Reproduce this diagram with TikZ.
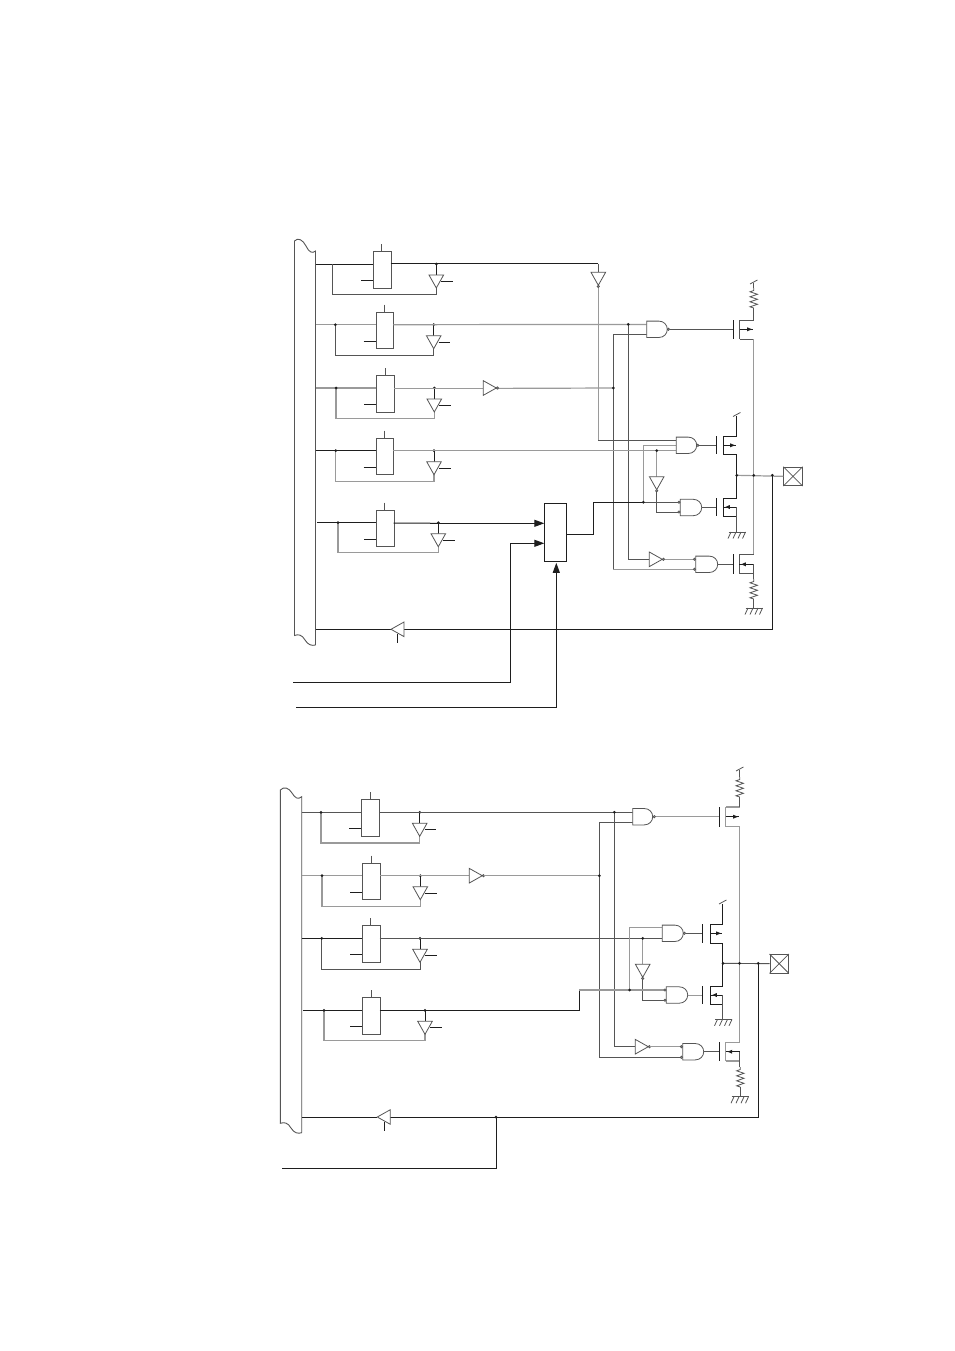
\documentclass[tikz,border=0pt]{standalone}
\usetikzlibrary{arrows.meta}
\definecolor{ink}{HTML}{1E1E1E}
\definecolor{mid}{HTML}{555555}
\definecolor{pale}{HTML}{9A9A9A}
\tikzset{
  wire/.style={draw=ink,line width=1pt,line join=miter},
  gwire/.style={draw=mid,line width=0.9pt},
  lwire/.style={draw=pale,line width=1.2pt},
  sym/.style={draw=mid,line width=0.8pt,fill=white},
  dotj/.style={circle,fill=ink,draw=none,inner sep=0pt,minimum size=3pt},
  latchbox/.style={draw=mid,line width=0.9pt,fill=white,rectangle,inner sep=0pt,minimum width=17.5pt,minimum height=36.5pt},
  muxbox/.style={draw=ink,line width=1pt,fill=white,rectangle,inner sep=0pt,minimum width=22pt,minimum height=58pt},
  padbox/.style={draw=mid,line width=0.8pt,fill=white,rectangle,inner sep=0pt,minimum size=18.5pt},
  bigarrow/.style={-{Triangle[length=10pt,width=7pt]}}
}
\newcommand\trig[4]{%
  \begin{scope}[shift={(#2,#3)},rotate=#4]
    \draw[sym] (0,-7.3) -- (13,0) -- (0,7.3) -- cycle;
  \end{scope}}
\newcommand\trib[4]{%
  \begin{scope}[shift={(#2,#3)},rotate=#4]
    \draw[sym] (0,-7.3) -- (13,0) -- (0,7.3) -- cycle;
    \draw[sym] (14.1,0) circle (1.1);
  \end{scope}}
% latch row: name, wire start, junction x, box left, wire y, buffer x, feedback y, feedback style, input style
\newcommand\latchrow[9]{%
  \coordinate (#1s) at (#2,#5);
  \coordinate (#1j) at (#3,#5);
  \coordinate (#1o) at (#6,#5);
  \coordinate (#1f) at (#3,#7);
  \coordinate (#1g) at (#6,#7);
  \draw[#9] (#1s) -- (#4,#5);
  \node[latchbox,anchor=north west] (#1box) at (#4,#5-13) {};
  \draw[#8] (#1j) -- (#1f) -- (#1g) -- (#6,#5+23);
  \draw[wire] (#1o) -- (#6,#5+11);
  \draw[gwire] (#4+8.7,#5-20) -- (#4+8.7,#5-13);
  \draw[wire] (#4-12,#5+16.5) -- (#4,#5+16.5);
  \draw[wire] (#6+5,#5+17.5) -- (#6+16.5,#5+17.5);
  \trig{#1b}{#6}{#5+11}{-90}
  \node[dotj] at (#1o) {};
}
\newcommand\andbody[3]{%
  \draw[sym] (#1,#2-8.2) -- (#1+#3-8.5,#2-8.2) .. controls (#1+#3-3.5,#2-8.2) and (#1+#3,#2-4.5) .. (#1+#3,#2) .. controls (#1+#3,#2+4.5) and (#1+#3-3.5,#2+8.2) .. (#1+#3-8.5,#2+8.2) -- (#1,#2+8.2) -- cycle;
}
\newcommand\bub[2]{\draw[sym] (#1,#2) circle (1.1);}
\newcommand\mos[7]{%
  \draw[#7] (#4,#2) -- (#4,#3);
  \draw[wire] (#1,#2) -- (#1,#3);
  \draw[#7] (#5,#2) -- (#4,#2) (#4,#3) -- (#5,#3);
}
\newcommand\arrowr[3]{%
  \draw[wire] (#1,#3) -- (#2,#3);
  \fill[ink] (#2-1,#3) -- (#2-6,#3-2) -- (#2-6,#3+2) -- cycle;}
\newcommand\arrowl[3]{%
  \draw[wire] (#1,#3) -- (#2,#3);
  \fill[ink] (#1+2,#3) -- (#1+6.5,#3-2) -- (#1+6.5,#3+2) -- cycle;}
% resistor: x, y top, y bottom (four zigzag periods of 5 px)
\newcommand\res[3]{%
  \draw[sym,fill=none] (#1,#3)
   -- ++(-3.7,-1.2) -- ++(7.4,-2.5) -- ++(-7.4,-2.5) -- ++(7.4,-2.5) -- ++(-7.4,-2.5) -- ++(7.4,-2.5) -- ++(-7.4,-2.5) -- ++(3.7,-1.3) -- (#1,#2);
}
\newcommand\gnd[2]{%
  \draw[sym,fill=none] (#1-8.5,#2) -- (#1+8.5,#2);
  \foreach \k in {-5.5,-0.5,4.5,9}{\draw[sym,fill=none] (#1+\k-0.5,#2) -- (#1+\k-3.5,#2+6.5);}
}
\newcommand\vdd[2]{\draw[sym,fill=none] (#1-3.7,#2+1) -- (#1+3.7,#2-3);}
\begin{document}
\begin{tikzpicture}[x=1pt,y=-1pt]
\useasboundingbox (0,0) rectangle (954,1351);
\fill[white] (0,0) rectangle (954,1351);

%%%%%%%%%%%%%%%%%%%%% upper diagram
\draw[gwire] (315.5,645) -- (315.5,251) .. controls (312,254) and (309,252) .. (306,246) .. controls (303,240) and (298,237) .. (294.5,241) -- (294.5,635.5) .. controls (298,634) and (302,634.5) .. (305,640) .. controls (308,645) and (312,646) .. (315.5,645);
\latchrow{a}{315.5}{332.3}{373}{264}{436.3}{294.3}{gwire}{wire}
\latchrow{b}{315.5}{335.3}{375.5}{324.7}{433.7}{355.3}{gwire}{lwire}
\latchrow{c}{315.5}{336}{376.3}{388}{434.3}{418.7}{lwire}{lwire}
\latchrow{d}{315.5}{335.7}{375.7}{450.7}{434}{481.5}{lwire}{wire}
\latchrow{e}{317}{338}{376}{522.7}{438.3}{552.3}{lwire}{wire}
% mux
\node[muxbox,anchor=north west] (mux) at (544.3,503.3) {};
\coordinate (mi1) at (mux.west |- 0,523.3);
\coordinate (mi2) at (mux.west |- 0,543.3);
\coordinate (mi3) at (556.3,562.8);
\coordinate (ml2) at (293,682.3);
\coordinate (ml3) at (296,707.3);
\draw[wire,bigarrow] (eo |- mi1) -- (mi1);
\draw[wire] (393.5,523) -- (eo |- mi1);
\draw[wire,bigarrow] (ml2) -- (510.7,682.3) -- (510.7,543.3) -- (mi2);
\draw[wire,bigarrow] (ml3) -- (556.3,707.3) -- (mi3);
% row a to tall buffer
\coordinate (bf1) at (598.3,263.5);
\draw[wire] (390.5,263.5) -- (bf1);
\draw[gwire] (bf1) -- (598.3,272.3);
\draw[lwire] (598.3,287) -- (598.3,440);
\trib{t1}{598.3}{272.3}{-90}
% NAND 1
\coordinate (n1a) at (646.7,324.4);
\coordinate (n1b) at (646.7,334.3);
\coordinate (j28) at (628.3,324.4);
\coordinate (j13) at (613.3,388);
\draw[lwire] (393.3,324.7) -- (n1a);
\draw[lwire] (394,388.4) -- (483.3,388.4);
\draw[lwire] (498,388.4) -- (j13);
\draw[gwire] (n1b) -- (613.3,334.3) -- (613.3,569.3);
\draw[gwire] (j28) -- (628.3,559.3);
\trib{i1}{483.3}{388}{0}
% NAND 2
\draw[gwire] (598.3,440.2) -- (676.3,440.2);
\draw[lwire] (393.3,450.7) -- (676.3,450.7);
\coordinate (j43) at (643.3,502.3);
\coordinate (j56) at (656.7,450.7);
\draw[lwire] (j43) -- (643.3,445.7) -- (676.3,445.7);
\draw[lwire] (j56) -- (656.7,476.7);
\trib{t2}{656.7}{476.7}{-90}
\draw[gwire] (656.7,491.5) -- (656.7,512) -- (679,512);
\draw[wire] (566.3,534) -- (593.3,534) -- (593.3,502.3) -- (643.3,502.3);
\draw[gwire] (643.3,502.3) -- (679,502.3);
% inverter low
\draw[gwire] (628.3,559.3) -- (649.3,559.3);
\trib{i2}{649.3}{559.3}{0}
\draw[lwire] (664.5,559.3) -- (694,559.3);
\draw[lwire] (613.3,569.3) -- (694,569.3);
% gates
\andbody{646.7}{329.3}{20.6}\bub{668.4}{329.3}
\andbody{676.3}{445.3}{20.4}\bub{697.8}{445.3}
\andbody{680.3}{507.5}{21.4}\bub{679}{502.3}\bub{679}{512}
\andbody{695.7}{564.3}{22}\bub{694.5}{559.3}\bub{694.5}{569.3}
% outputs to gates
\draw[gwire] (669.5,329.3) -- (733.7,329.3);
\draw[gwire] (699,445.3) -- (716.3,445.3);
\draw[gwire] (701.7,507.5) -- (716.3,507.5);
\draw[gwire] (717.7,564.3) -- (733.3,564.3);
% transistors
\mos{733.7}{320}{339.3}{739.7}{753.7}{329.3}{gwire}
\arrowr{739.7}{753}{329.3}
\mos{716.3}{436}{454.3}{723.3}{736.7}{445.3}{wire}
\arrowr{723.3}{736}{445.3}
\mos{716.3}{498.3}{516.3}{723.3}{736.7}{507}{wire}
\arrowl{723.3}{736.7}{507}
\mos{733.3}{554.3}{573.5}{739.3}{753.7}{564.3}{gwire}
\arrowl{739.3}{753.7}{564.3}
% rails
\res{753.7}{288}{308}
\draw[gwire] (753.7,308) -- (753.7,320);
\draw[gwire] (753.7,288) -- (753.7,283);
\vdd{753.7}{283}
\draw[lwire] (753.7,339.3) -- (753.7,554.3);
\draw[wire] (736.7,436) -- (736.7,416);
\vdd{736.7}{415.5}
\draw[wire] (736.7,454.3) -- (736.7,498.3);
\draw[gwire] (736.7,507) -- (736.7,532);
\gnd{737}{532}
\draw[gwire] (753.7,564.3) -- (753.7,579);
\res{753.7}{579}{599}
\draw[gwire] (753.7,599) -- (753.7,608);
\gnd{754}{608}
% pad
\node[padbox,anchor=north west] (pad1) at (783.3,466.7) {};
\draw[sym,fill=none] (pad1.north west) -- (pad1.south east) (pad1.north east) -- (pad1.south west);
\coordinate (o1) at (736.7,475.3);
\coordinate (o2) at (753.7,475.3);
\coordinate (o3) at (772.3,475.3);
\draw[lwire] (o1) -- (pad1.west);
% return
\draw[wire] (o3) -- (772.3,629.3) -- (404,629.3);
\draw[wire] (391.7,629.3) -- (315.5,629.3);
\trig{r1}{404}{629.3}{180}
\draw[wire] (397.3,634) -- (397.3,643);
\foreach \p in {bj,cj,dj,ej,j28,j13,j43,j56,o1,o2,o3}{\node[dotj] at (\p) {};}

%%%%%%%%%%%%%%%%%%%%% lower diagram
\draw[gwire] (301.7,1132.7) -- (301.7,796.7) .. controls (298,800) and (295,798) .. (292,793) .. controls (289,788) and (284,786) .. (280.3,790) -- (280.3,1123.3) .. controls (284,1122) and (288,1122.5) .. (291,1128) .. controls (294,1133) and (298,1134) .. (301.7,1132.7);
\latchrow{p}{301.7}{321}{361.3}{812.3}{419.7}{843}{lwire}{gwire}
\latchrow{q}{301.7}{322}{362.3}{875.7}{420.3}{906.3}{lwire}{lwire}
\latchrow{r}{301.7}{321.7}{362}{938.3}{420}{969}{gwire}{wire}
\latchrow{s}{303}{324}{362.3}{1010.3}{425}{1040.3}{lwire}{wire}
\draw[gwire] (379,812.3) -- (632.7,812.3);
\coordinate (k14) at (614.3,812.3);
\coordinate (k99) at (599.3,875.7);
\draw[lwire] (380.3,875.7) -- (469.3,875.7);
\trib{i3}{469.3}{875.7}{0}
\draw[lwire] (484,875.7) -- (k99);
\draw[gwire] (632.7,822) -- (599.3,822) -- (599.3,1057.3) -- (681,1057.3);
\draw[gwire] (k14) -- (614.3,1046.7) -- (635.3,1046.7);
\trib{i4}{635.3}{1046.7}{0}
\draw[lwire] (649.5,1046.7) -- (681,1046.7);
\draw[gwire] (379.7,938.3) -- (662.3,938.3);
\coordinate (k42) at (642.7,938.3);
\coordinate (k29) at (629.7,990);
\draw[lwire] (k42) -- (642.7,964.3);
\trib{t3}{642.7}{964.3}{-90}
\draw[gwire] (642.7,979) -- (642.7,1000.3) -- (665,1000.3);
\draw[wire] (379.7,1010.3) -- (579.3,1010.3) -- (579.3,990);
\draw[lwire] (579.3,990) -- (665,990);
\draw[lwire] (k29) -- (629.7,927.7) -- (662.3,927.7);
\andbody{632.7}{816.7}{20}\bub{654.3}{816.7}
\andbody{662.3}{933.3}{21}\bub{684.4}{933.3}
\andbody{666.3}{995}{21.4}\bub{665}{990}\bub{665}{1000.3}
\andbody{682.7}{1051.7}{21}\bub{681.4}{1046.7}\bub{681.4}{1057.3}
\draw[lwire] (655.5,816.7) -- (719.7,816.7);
\draw[gwire] (685.5,933.3) -- (702.3,933.3);
\draw[pale,line width=1pt] (687.7,995) -- (702.3,995);
\draw[gwire] (703.7,1051.7) -- (719.7,1051.7);
\mos{719.7}{807}{826.7}{725.7}{739.7}{816.7}{lwire}
\arrowr{725.7}{739}{816.7}
\mos{702.3}{924}{943.3}{710.3}{722.7}{933.3}{wire}
\arrowr{710.3}{722}{933.3}
\mos{702.3}{986}{1004.3}{710.3}{722.7}{995}{wire}
\arrowl{710.3}{722.7}{995}
\mos{719.7}{1042.3}{1061}{725.7}{739.7}{1051.7}{lwire}
\arrowl{725.7}{739.7}{1051.7}
\res{739.7}{777}{797}
\draw[gwire] (739.7,797) -- (739.7,807);
\draw[gwire] (739.7,777) -- (739.7,770);
\vdd{739.7}{770}
\draw[lwire] (739.7,826.7) -- (739.7,1042.3);
\draw[wire] (722.7,924) -- (722.7,904);
\vdd{722.7}{903}
\draw[wire] (722.7,943.3) -- (722.7,986);
\draw[gwire] (722.7,995) -- (722.7,1019.3);
\gnd{723.5}{1019.3}
\draw[gwire] (739.7,1051.7) -- (739.7,1067);
\res{740.3}{1067}{1087}
\draw[gwire] (740.3,1087) -- (740.3,1096.7);
\gnd{740}{1096.7}
\node[padbox,anchor=north west] (pad2) at (769.5,954) {};
\draw[sym,fill=none] (pad2.north west) -- (pad2.south east) (pad2.north east) -- (pad2.south west);
\coordinate (u1) at (723,963.3);
\coordinate (u2) at (739.5,963.3);
\coordinate (u3) at (758.2,963.3);
\draw[gwire] (u1) -- (pad2.west);
\coordinate (v1) at (496,1117);
\draw[wire] (u3) -- (758.2,1117) -- (390.3,1117);
\draw[wire] (377.3,1117) -- (301.7,1117);
\trig{r2}{390.3}{1117}{180}
\draw[wire] (384.7,1122) -- (384.7,1131);
\draw[wire] (v1) -- (496,1168.3) -- (282,1168.3);
\foreach \p in {pj,qj,rj,sj,k14,k99,k42,k29,u1,u2,u3,v1}{\node[dotj] at (\p) {};}
\end{tikzpicture}
\end{document}
